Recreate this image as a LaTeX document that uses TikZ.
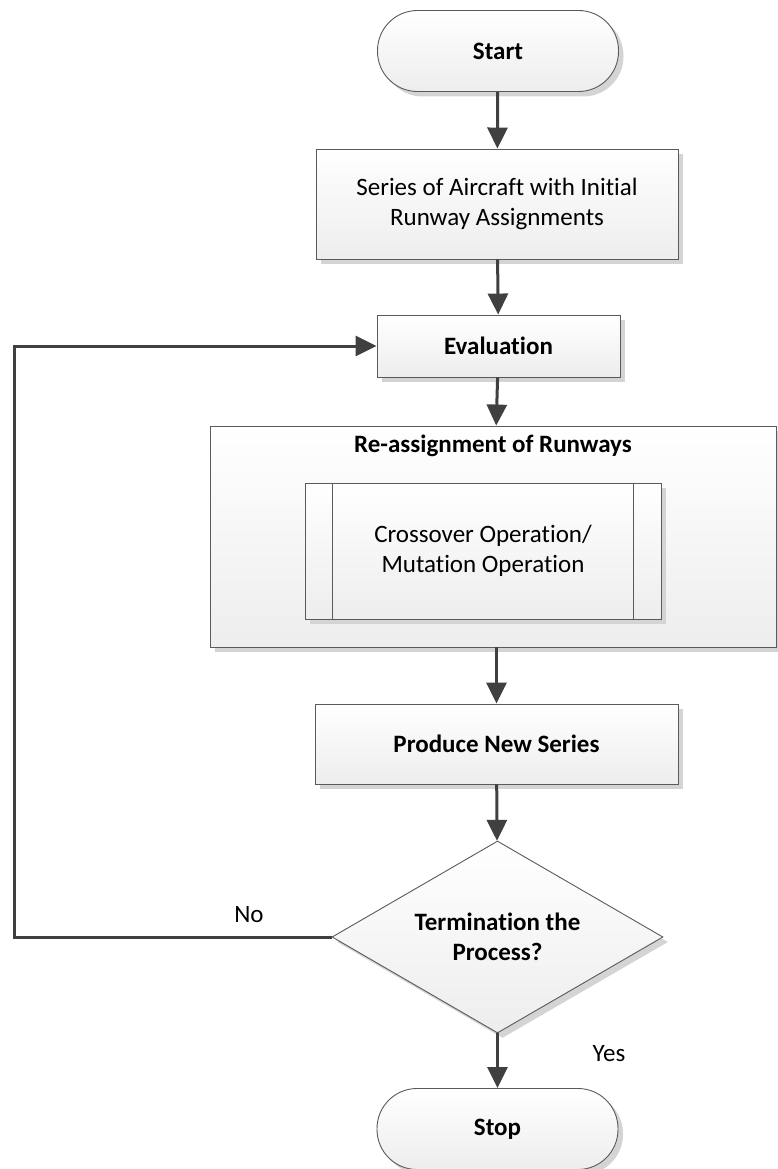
\documentclass[tikz,border=0pt]{standalone}
\usepackage{fontspec}
\setmainfont{Carlito}[Ligatures=NoCommon]
\usetikzlibrary{arrows.meta,shapes.geometric,shadows,calc}
\definecolor{edge}{HTML}{5A5A5A}
\definecolor{conn}{HTML}{404040}
\definecolor{shade}{HTML}{D4D4D4}
\newcommand{\labelfont}{\fontsize{25}{30}\selectfont}
\tikzset{
  boxbase/.style={draw=edge, line width=0.9pt, top color=white, bottom color=black!7,
    inner sep=0pt, align=center, font=\labelfont,
    drop shadow={shadow xshift=5pt, shadow yshift=-5pt, fill=shade, opacity=1}},
  terminal/.style={boxbase, rectangle, rounded corners=40pt, minimum width=241pt,
    minimum height=81pt, font=\labelfont\bfseries},
  procbox/.style={boxbase, rectangle},
  decision/.style={boxbase, diamond, aspect=1.72, minimum width=331pt,
    minimum height=192pt, font=\labelfont\bfseries},
  flow/.style={draw=conn, line width=3pt, -{Triangle[length=21pt,width=20pt]}},
  tag/.style={font=\labelfont, inner sep=0pt}
}
\begin{document}
\begin{tikzpicture}[x=1pt, y=-1pt]
\useasboundingbox (0,0) rectangle (777,1169);

\node[terminal] (start) at (498,51) {Start};
\node[procbox, minimum width=362pt, minimum height=110pt] (series) at (497,204)
  {Series of Aircraft with Initial\\Runway Assignments};
\node[procbox, minimum width=243pt, minimum height=62pt,
  font=\labelfont\bfseries] (eval) at (498.5,346) {Evaluation};

% container of the re-assignment step
\node[procbox, minimum width=566pt, minimum height=221pt] (reassign) at (493,536.5) {};
\node[tag, font=\labelfont\bfseries, anchor=center] (reatitle)
  at (493,446) {Re-assignment of Runways};
\node[procbox, minimum width=356pt, minimum height=136pt] (ops) at (483,551)
  {Crossover Operation/\\Mutation Operation};
\draw[edge, line width=0.9pt] ([xshift=28pt]ops.north west) -- ([xshift=28pt]ops.south west);
\draw[edge, line width=0.9pt] ([xshift=-28pt]ops.north east) -- ([xshift=-28pt]ops.south east);

\node[procbox, minimum width=363pt, minimum height=80pt,
  font=\labelfont\bfseries] (produce) at (496.5,744) {Produce New Series};
\node[decision, align=center] (dec) at (497.5,937) {Termination the\\Process?};
\node[terminal] (stop) at (497.5,1129) {Stop};

\coordinate (loopx) at (14,0);

\draw[flow] (start) -- (series);
\draw[flow] (series) -- (eval);
\draw[flow] (eval) -- (reassign);
\draw[flow] (reassign.south -| produce.north) -- (produce);
\draw[flow] (produce) -- (dec);
\draw[flow] (dec) -- (stop);
\draw[flow] (dec.west) -- (dec.west -| loopx) |- (eval.west);

\node[tag] (no) at (249,915) {No};
\node[tag] (yes) at (609,1054) {Yes};
\end{tikzpicture}
\end{document}
